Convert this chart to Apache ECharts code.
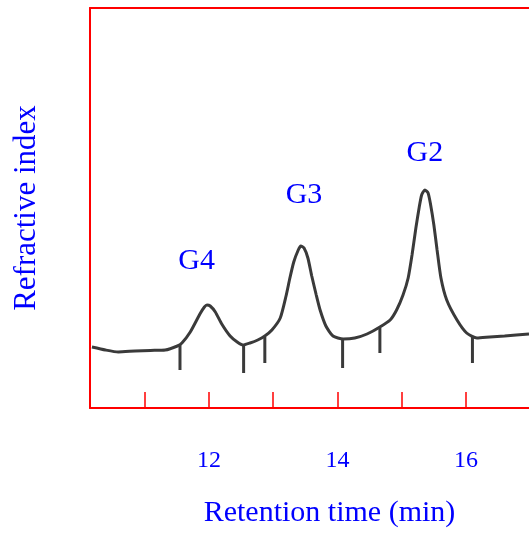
<!DOCTYPE html>
<html>
<head>
<meta charset="utf-8">
<script src="https://cdn.jsdelivr.net/npm/echarts@6/dist/echarts.min.js"></script>
<style>
html,body{margin:0;padding:0;background:#fff;}
#chart{width:529px;height:533px;}
</style>
</head>
<body>
<div id="chart"></div>
<script>
// Retention time (min) and refractive index signal (arbitrary units, 0-100)
var retentionTime = [10.18,10.39,10.59,10.85,11.09,11.32,11.51,11.58,11.71,11.86,11.93,11.97,12.02,12.10,12.20,12.33,12.44,12.53,12.64,12.76,12.87,12.98,13.11,13.20,13.26,13.32,13.39,13.43,13.48,13.54,13.60,13.67,13.73,13.82,13.93,14.09,14.27,14.46,14.66,14.82,14.92,15.02,15.10,15.16,15.22,15.27,15.31,15.36,15.41,15.45,15.50,15.55,15.61,15.70,15.86,16.01,16.17,16.37,16.60,16.98];
var signal = [15.25,14.5,14.0,14.25,14.4,14.5,15.5,16.25,19,23.5,25.25,25.75,25.5,24,21,18,16.5,15.75,16.25,17,18,19.5,22.5,28,32.5,36.5,39.5,40.5,40,37.5,33,28.25,24.5,20.5,18,17.25,17.5,18.5,20.25,22,24.5,28.25,32.5,38.25,45,50,53.25,54.5,53.75,50.75,45.75,39.5,32.5,27,22,18.75,17.5,17.75,18,18.5];

// baseline integration markers: time, top and bottom of each drop line
var markerTime = [11.55,12.54,12.87,14.08,14.66,16.10];
var markerTop = [15.75,15.75,17.75,17.25,20.0,17.75];
var markerBottom = [9.5,8.75,11.25,10.0,13.75,11.25];

// peak labels
var peakNames = ['G4','G3','G2'];
var peakLabelTime = [11.81,13.48,15.36];
var peakLabelLevel = [36.6,53.25,63.75];

// axis
var xMin = 10.15, xMax = 16.98;
var xTickLabels = ['12','14','16'];

var FONT = "'Liberation Serif','Times New Roman',serif";
var BLUE = '#0000ff';
var RED = '#ff0000';

var lineData = retentionTime.map(function(t,i){return [t, signal[i]];});
var markerData = markerTime.map(function(t,i){return [t, markerTop[i], markerBottom[i]];});
var labelData = peakNames.map(function(n,i){return [peakLabelTime[i], peakLabelLevel[i], n];});

var chart = echarts.init(document.getElementById('chart'), null, {renderer:'canvas'});
chart.setOption({
  animation: false,
  backgroundColor: '#ffffff',
  grid: {left: 90, right: 0, top: 8, bottom: 125, containLabel: false, outerBoundsMode: 'none'},
  xAxis: [{
    type: 'value', min: xMin, max: xMax, minInterval: 1, maxInterval: 1, splitNumber: 7,
    position: 'bottom',
    axisLine: {show: true, onZero: false, lineStyle: {color: RED, width: 2}},
    axisTick: {show: true, inside: true, length: 16, lineStyle: {color: RED, width: 1.5}},
    splitLine: {show: false},
    axisLabel: {
      show: true, margin: 41, color: BLUE, fontFamily: FONT, fontSize: 24,
      showMinLabel: false, showMaxLabel: false,
      formatter: function(v){ var s = String(Math.round(v)); return (Math.abs(v-Math.round(v))<1e-6 && xTickLabels.indexOf(s)>=0) ? s : ''; }
    },
    name: 'Retention time (min)', nameLocation: 'middle', nameGap: 90,
    nameTextStyle: {color: BLUE, fontFamily: FONT, fontSize: 30, padding: [0,0,0,40]}
  },{
    type: 'value', min: xMin, max: xMax, position: 'top',
    axisLine: {show: true, onZero: false, lineStyle: {color: RED, width: 2}},
    axisTick: {show: false}, axisLabel: {show: false}, splitLine: {show: false}
  }],
  yAxis: {
    type: 'value', min: 0, max: 100,
    axisLine: {show: true, onZero: false, lineStyle: {color: RED, width: 2}},
    axisTick: {show: false}, axisLabel: {show: false}, splitLine: {show: false},
    name: 'Refractive index', nameLocation: 'middle', nameGap: 48,
    nameTextStyle: {color: BLUE, fontFamily: FONT, fontSize: 31}
  },
  series: [{
    type: 'line', data: lineData, xAxisIndex: 0, showSymbol: false, symbol: 'none',
    smooth: 0.2, lineStyle: {color: '#3a3a3a', width: 3}, z: 3
  },{
    type: 'custom', xAxisIndex: 0, data: markerData,
    renderItem: function(params, api){
      var p1 = api.coord([api.value(0), api.value(1)]);
      var p2 = api.coord([api.value(0), api.value(2)]);
      return {type: 'line', shape: {x1: p1[0], y1: p1[1], x2: p2[0], y2: p2[1]},
        style: {stroke: '#3a3a3a', lineWidth: 3}};
    }, z: 3
  },{
    type: 'scatter', xAxisIndex: 0, data: labelData, symbolSize: 0,
    itemStyle: {opacity: 1},
    label: {show: true, position: 'inside', formatter: function(p){return p.data[2];},
      color: BLUE, opacity: 1, fontFamily: FONT, fontSize: 30},
    emphasis: {disabled: true},
    z: 4
  }]
});
</script>
</body>
</html>
